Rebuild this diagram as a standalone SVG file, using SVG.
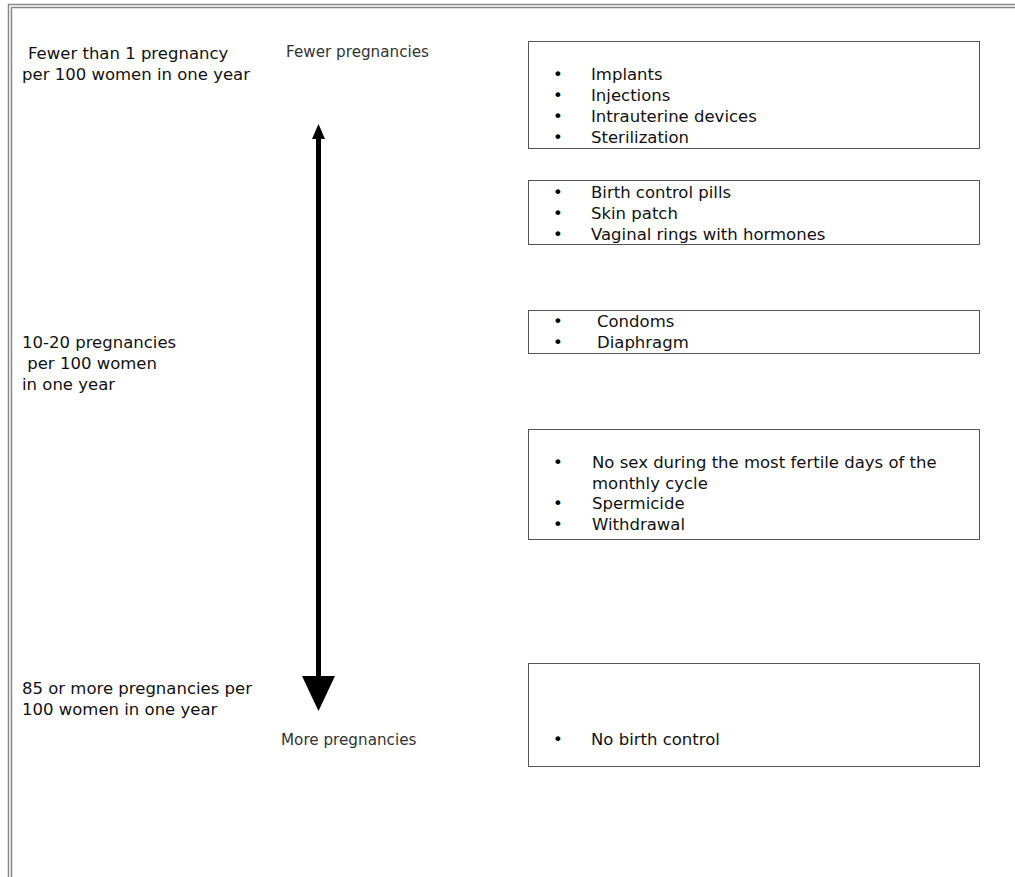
<svg xmlns="http://www.w3.org/2000/svg" width="1015" height="877" viewBox="0 0 1015 877">
<style>
.t{font-family:"DejaVu Sans",Verdana,sans-serif;font-size:16.5px;fill:#111}
.s{font-family:"DejaVu Sans",Verdana,sans-serif;font-size:15.2px;fill:#333}
.b{font-family:"DejaVu Sans",Verdana,sans-serif;font-size:16.5px;fill:#000}
.box{fill:#fff;stroke:#555;stroke-width:1}
.frame{stroke:#888;stroke-width:1.5;fill:none}
</style>
<rect width="1015" height="877" fill="#fff"/>
<g id="frame">
<path class="frame" d="M8.5,877 V4.5 H1015"/>
<path class="frame" d="M11.5,877 V7.5 H1015"/>
</g>
<g id="label-top">
<text class="t" x="28" y="59">Fewer than 1 pregnancy</text>
<text class="t" x="22" y="80">per 100 women in one year</text>
</g>
<g id="label-mid">
<text class="t" x="22" y="348">10-20 pregnancies</text>
<text class="t" x="22" y="369" xml:space="preserve"> per 100 women</text>
<text class="t" x="22" y="390">in one year</text>
</g>
<g id="label-bottom">
<text class="t" x="22" y="694">85 or more pregnancies per</text>
<text class="t" x="22" y="715">100 women in one year</text>
</g>
<g id="fewer">
<text class="s" x="286" y="57">Fewer pregnancies</text>
</g>
<g id="more">
<text class="s" x="281" y="745">More pregnancies</text>
</g>
<g id="connectors">
<rect x="316" y="137" width="5" height="540" fill="#000"/>
<polygon points="318.5,124 312,139 325,139" fill="#000"/>
<polygon points="302,676 335,676 318.5,711" fill="#000"/>
</g>
<g id="box1">
<rect class="box" x="528.5" y="41.5" width="451" height="107"/>
<text class="b" x="553" y="80">•</text><text class="t" x="591" y="80">Implants</text>
<text class="b" x="553" y="101">•</text><text class="t" x="591" y="101">Injections</text>
<text class="b" x="553" y="122">•</text><text class="t" x="591" y="122">Intrauterine devices</text>
<text class="b" x="553" y="143">•</text><text class="t" x="591" y="143">Sterilization</text>
</g>
<g id="box2">
<rect class="box" x="528.5" y="180.5" width="451" height="64"/>
<text class="b" x="553" y="198">•</text><text class="t" x="591" y="198">Birth control pills</text>
<text class="b" x="553" y="219">•</text><text class="t" x="591" y="219">Skin patch</text>
<text class="b" x="553" y="240">•</text><text class="t" x="591" y="240">Vaginal rings with hormones</text>
</g>
<g id="box3">
<rect class="box" x="528.5" y="310.5" width="451" height="43"/>
<text class="b" x="553" y="327">•</text><text class="t" x="597" y="327">Condoms</text>
<text class="b" x="553" y="348">•</text><text class="t" x="597" y="348">Diaphragm</text>
</g>
<g id="box4">
<rect class="box" x="528.5" y="429.5" width="451" height="110"/>
<text class="b" x="553" y="468">•</text><text class="t" x="592" y="468">No sex during the most fertile days of the</text>
<text class="t" x="592" y="489">monthly cycle</text>
<text class="b" x="553" y="509">•</text><text class="t" x="592" y="509">Spermicide</text>
<text class="b" x="553" y="530">•</text><text class="t" x="592" y="530">Withdrawal</text>
</g>
<g id="box5">
<rect class="box" x="528.5" y="663.5" width="451" height="103"/>
<text class="b" x="553" y="745">•</text><text class="t" x="591" y="745">No birth control</text>
</g>
</svg>
